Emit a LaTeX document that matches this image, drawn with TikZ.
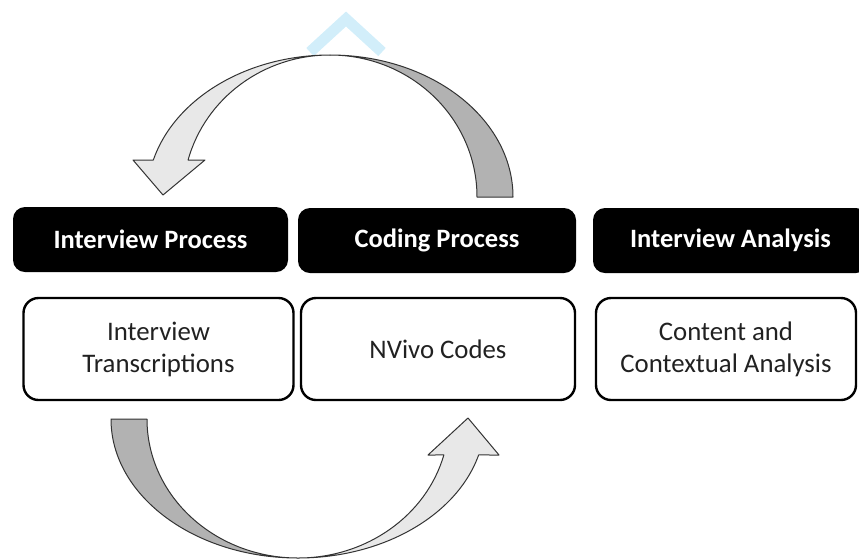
\documentclass[tikz,border=0pt]{standalone}
\usepackage{fontspec}
\setmainfont{Carlito}

\definecolor{backside}{gray}{0.70}
\definecolor{frontside}{gray}{0.91}
\definecolor{bodytext}{gray}{0.13}
\definecolor{watermark}{RGB}{210,238,250}

\begin{document}
\begin{tikzpicture}[x=1pt, y=-1pt,
    headbox/.style={fill=black, rounded corners=12pt, minimum width=275pt, minimum height=65pt,
        text=white, font=\bfseries\fontsize{26.5}{30}\selectfont},
    itembox/.style={draw=black, line width=2.4pt, rounded corners=15pt, minimum width=270pt,
        minimum height=102pt, align=center, text=bodytext, font=\fontsize{26.8}{32}\selectfont},
    ribbon/.style={draw=black!80, line width=1pt, line join=round}]
    \useasboundingbox (0,0) rectangle (859,558);
    \clip (0,0) rectangle (859,558);

    % watermark piece
    \draw[watermark, line width=11pt] (310,52) -- (346,19) -- (382,52);

    % headings
    \node[headbox] (interview) at (150.5,239.5) {Interview Process};
    \node[headbox, minimum width=278pt] (coding) at (437,240.5) {Coding Process};
    \node[headbox] (analysis) at (730.5,240.5) {Interview Analysis};

    % contents
    \node[itembox] (transcripts) at (158.5,349) {Interview\\Transcriptions};
    \node[itembox, minimum width=274pt] (codes) at (438,349) {NVivo Codes};
    \node[itembox, minimum width=260pt] (contextual) at (726,349) {Content and\\Contextual Analysis};

    % upper arrow, back from coding to interview (y is flipped, so angles go clockwise)
    \begin{scope}[shift={(330,197)}]
        \draw[ribbon, fill=backside] (0:183 and 142) arc[start angle=0, end angle=-90, x radius=183, y radius=142]
            -- (-90:147 and 142) arc[start angle=-90, end angle=0, x radius=147, y radius=142] -- cycle;
        \draw[ribbon, fill=frontside] (-90:183 and 142) arc[start angle=-90, end angle=-164.9, x radius=183, y radius=142]
            -- (-197,-37) -- (-167,-2) -- (-125,-37)
            -- (-164.9:147 and 142) arc[start angle=-164.9, end angle=-90, x radius=147, y radius=142] -- cycle;
    \end{scope}

    % lower arrow, from interview to coding
    \begin{scope}[shift={(298,419)}]
        \draw[ribbon, fill=backside] (180:187 and 139) arc[start angle=180, end angle=90, x radius=187, y radius=139]
            -- (90:151 and 139) arc[start angle=90, end angle=180, x radius=151, y radius=139] -- cycle;
        \draw[ribbon, fill=frontside] (90:187 and 139) arc[start angle=90, end angle=15, x radius=187, y radius=139]
            -- (201,36) -- (170,-1) -- (130,36)
            -- (15:151 and 139) arc[start angle=15, end angle=90, x radius=151, y radius=139] -- cycle;
    \end{scope}
\end{tikzpicture}
\end{document}
